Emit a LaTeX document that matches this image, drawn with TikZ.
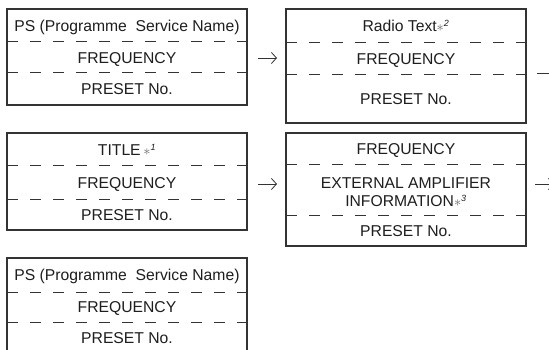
\documentclass[tikz,border=0pt]{standalone}
\usepackage{fontspec}
\setmainfont{Liberation Sans}
\usetikzlibrary{arrows.meta}
\definecolor{ln}{HTML}{333333}
\definecolor{tx}{HTML}{1E1E1E}
\tikzset{
  box/.style={draw=ln, line width=1.1pt, inner sep=0pt, outer sep=0pt, minimum width=240pt},
  sep/.style={draw=ln, line width=1pt, dash pattern=on 11pt off 12pt},
  txt/.style={text=tx, inner sep=0pt, text height=11.3pt, text depth=0pt, font=\fontsize{15.7}{16}\selectfont},
  arr/.style={draw=ln, line width=0.8pt, -{Straight Barb[length=5pt,width=11pt]}}
}
\newcommand{\note}[1]{{\color{ln!75}$\ast$}\textsuperscript{\textit{\fontsize{9}{9}\selectfont #1}}}
\begin{document}
\begin{tikzpicture}[x=1pt,y=-1pt]
\clip (0,0) rectangle (549,350);
\fill[white] (0,0) rectangle (549,350);
% boxes
\node[box, minimum height=96pt]  (b1) at (127,57) {};
\node[box, minimum height=114pt] (b2) at (406,66) {};
\node[box, minimum height=97pt]  (b3) at (127,181.5) {};
\node[box, minimum height=113pt] (b4) at (406,189.5) {};
\node[box, minimum height=110pt] (b5) at (127,313) {};
% separators
\draw[sep] (b1.west |- 0,42) -- (b1.east |- 0,42);
\draw[sep] (b1.west |- 0,73) -- (b1.east |- 0,73);
\draw[sep] (b2.west |- 0,43) -- (b2.east |- 0,43);
\draw[sep] (b2.west |- 0,75) -- (b2.east |- 0,75);
\draw[sep] (b3.west |- 0,166) -- (b3.east |- 0,166);
\draw[sep] (b3.west |- 0,199) -- (b3.east |- 0,199);
\draw[sep] (b4.west |- 0,165) -- (b4.east |- 0,165);
\draw[sep] (b4.west |- 0,215) -- (b4.east |- 0,215);
\draw[sep] (b5.west |- 0,292) -- (b5.east |- 0,292);
\draw[sep] (b5.west |- 0,322) -- (b5.east |- 0,322);
% texts
\node[txt] (t1a) at (127,25.5) {PS (Programme\ \ Service Name)};
\node[txt] (t1b) at (127,57.5) {FREQUENCY};
\node[txt] (t1c) at (127,89) {PRESET No.};
\node[txt] (t2a) at (406,26) {Radio Text\note{2}};
\node[txt] (t2b) at (406,59) {FREQUENCY};
\node[txt] (t2c) at (406,99) {PRESET No.};
\node[txt] (t3a) at (127,150) {TITLE\,\note{1}};
\node[txt] (t3b) at (127,182.5) {FREQUENCY};
\node[txt] (t3c) at (127,214.5) {PRESET No.};
\node[txt] (t4a) at (406,149) {FREQUENCY};
\node[txt] (t4b1) at (406,182.5) {EXTERNAL AMPLIFIER};
\node[txt] (t4b2) at (406,201) {INFORMATION\note{3}};
\node[txt] (t4c) at (406,230.5) {PRESET No.};
\node[txt] (t5a) at (127,275) {PS (Programme\ \ Service Name)};
\node[txt] (t5b) at (127,307) {FREQUENCY};
\node[txt] (t5c) at (127,338) {PRESET No.};
% connectors
\coordinate (o2) at (556,73);
\coordinate (o4) at (554,184);
\draw[arr] ([xshift=11pt]b1.east |- 0,58) -- ([xshift=-9pt]b2.west |- 0,58);
\draw[arr] ([xshift=11pt]b3.east |- 0,184) -- ([xshift=-9pt]b4.west |- 0,184);
\draw[arr] ([xshift=11pt]b2.east |- 0,73) -- (o2);
\draw[arr] ([xshift=9pt]b4.east |- 0,184) -- (o4);
\end{tikzpicture}
\end{document}
